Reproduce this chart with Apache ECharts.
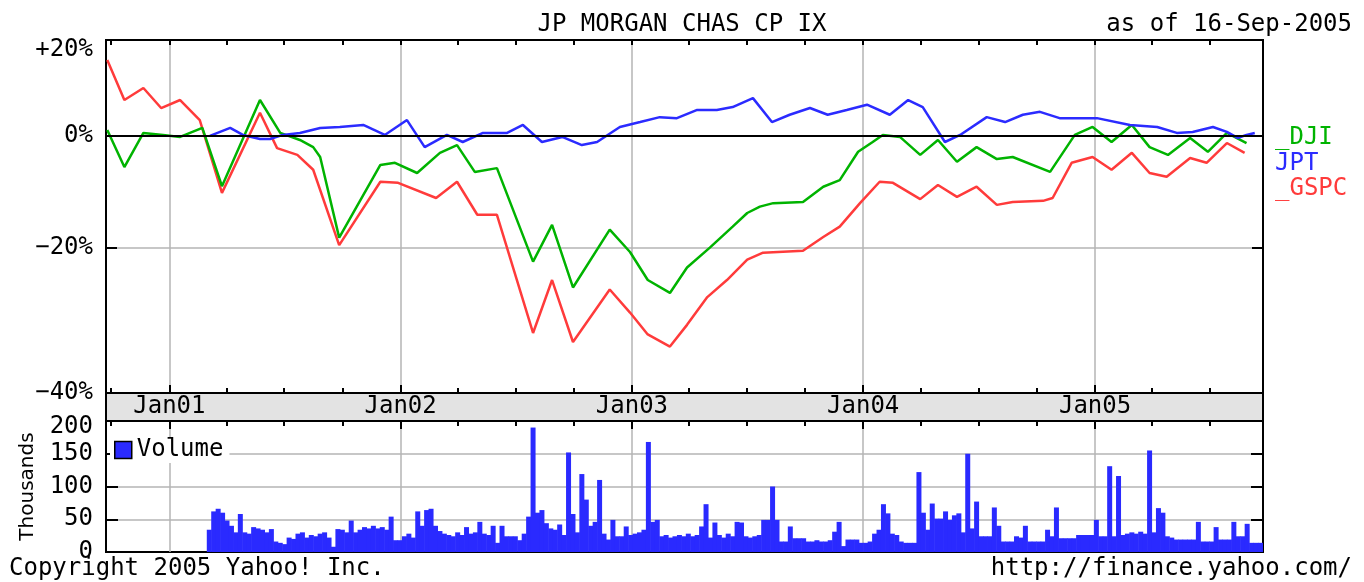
<!DOCTYPE html>
<html>
<head>
<meta charset="utf-8">
<title>JP MORGAN CHAS CP IX</title>
<script src="https://cdn.jsdelivr.net/npm/echarts@6/dist/echarts.min.js"></script>
<style>
  html, body { margin: 0; padding: 0; background: #fff; }
  #chart { width: 1364px; height: 582px; }
</style>
</head>
<body>
<div id="chart"></div>
<script>
// percent change since start of chart
const djiDates = ['2000-09-25','2000-10-22','2000-11-21','2000-12-22','2001-01-18','2001-02-22','2001-03-25','2001-05-24','2001-06-25','2001-07-26','2001-08-16','2001-08-27','2001-09-26','2001-11-30','2001-12-23','2002-01-27','2002-03-04','2002-03-31','2002-04-28','2002-06-02','2002-07-29','2002-08-28','2002-09-30','2002-11-27','2002-12-29','2003-01-26','2003-03-02','2003-03-29','2003-05-04','2003-06-09','2003-07-02','2003-07-22','2003-08-12','2003-09-28','2003-10-30','2003-11-25','2003-12-24','2004-01-16','2004-02-01','2004-02-28','2004-03-31','2004-04-28','2004-05-28','2004-06-28','2004-07-30','2004-08-24','2004-10-22','2004-11-30','2004-12-28','2005-01-27','2005-02-28','2005-03-28','2005-04-26','2005-05-31','2005-06-28','2005-07-28','2005-08-28']
const djiValues = [1.2,-6.0,0.6,0.2,-0.2,1.6,-9.5,7.4,0.6,-0.8,-2.2,-4.1,-18.3,-5.6,-5.2,-7.1,-3.3,-1.8,-6.9,-6.2,-22.1,-16.2,-26.0,-17.0,-20.6,-24.9,-26.8,-23.0,-19.9,-16.5,-14.2,-13.1,-12.5,-12.3,-9.6,-8.4,-3.1,-1.2,0.2,-0.2,-3.7,-0.8,-5.0,-2.2,-4.5,-4.1,-6.9,0.2,1.8,-1.2,2.2,-2.2,-3.7,-0.4,-3.1,0.6,-1.4]

const jptDates = ['2001-03-06','2001-04-07','2001-04-27','2001-05-24','2001-06-09','2001-06-29','2001-07-26','2001-08-27','2001-09-27','2001-11-03','2001-12-07','2002-01-11','2002-02-08','2002-03-15','2002-04-09','2002-05-11','2002-06-18','2002-07-13','2002-08-12','2002-09-13','2002-10-14','2002-11-07','2002-12-13','2003-01-14','2003-02-14','2003-03-13','2003-04-14','2003-05-15','2003-06-09','2003-07-11','2003-08-10','2003-09-07','2003-10-09','2003-11-06','2003-12-06','2004-01-07','2004-02-12','2004-03-12','2004-04-04','2004-05-09','2004-06-02','2004-07-14','2004-08-12','2004-09-09','2004-10-06','2004-11-06','2005-01-04','2005-02-25','2005-04-09','2005-05-10','2005-06-04','2005-07-06','2005-07-28','2005-08-14','2005-08-28','2005-09-10']
const jptValues = [0,1.6,0.2,-0.6,-0.6,0.2,0.6,1.6,1.8,2.2,0.2,3.2,-2.2,0.2,-1.2,0.6,0.6,2.2,-1.2,-0.2,-1.8,-1.2,1.8,2.8,3.8,3.6,5.3,5.3,5.9,7.8,2.8,4.3,5.7,4.3,5.3,6.4,4.3,7.4,5.9,-1.2,0.2,3.8,2.8,4.3,4.9,3.6,3.6,2.2,1.8,0.6,0.8,1.8,0.8,-0.4,0.2,0.6]

const gspcDates = ['2000-09-25','2000-10-22','2000-11-21','2000-12-19','2001-01-18','2001-02-18','2001-03-25','2001-05-24','2001-06-20','2001-07-22','2001-08-16','2001-09-26','2001-11-30','2001-12-28','2002-02-26','2002-03-31','2002-05-02','2002-06-02','2002-07-29','2002-08-28','2002-09-30','2002-11-27','2002-12-29','2003-01-26','2003-03-02','2003-03-29','2003-04-30','2003-05-31','2003-07-02','2003-07-27','2003-09-28','2003-10-30','2003-11-25','2003-12-27','2004-01-27','2004-02-17','2004-03-31','2004-04-28','2004-05-28','2004-06-28','2004-07-30','2004-08-24','2004-10-11','2004-10-26','2004-11-25','2004-12-28','2005-01-27','2005-02-28','2005-03-28','2005-04-24','2005-05-31','2005-06-26','2005-07-28','2005-08-25']
const gspcValues = [16.3,7.4,10.0,5.7,7.4,3.2,-10.7,4.7,-2.4,-3.7,-6.5,-19.5,-8.7,-8.9,-11.6,-8.7,-14.5,-14.5,-32.4,-24.9,-33.6,-26.3,-29.6,-32.6,-34.2,-31.3,-27.4,-24.9,-21.8,-20.7,-20.4,-18.2,-16.5,-12.5,-8.7,-8.9,-11.8,-9.3,-11.4,-9.6,-12.8,-12.3,-12.1,-11.6,-5.2,-4.1,-6.5,-3.3,-7.1,-7.8,-4.3,-5.2,-1.4,-3.3]

// weekly volume (thousands), first week starting 2001-03-05
const volumeStart = '2001-03-05'
const volumeValues = [
  34,62,66,60,48,40,30,58,30,28, 38,36,34,30,35,16,14,12,22,20,
  28,30,22,26,24,28,30,22,8,35, 34,30,48,30,34,38,36,40,36,38,
  34,54,18,18,24,28,22,62,40,64, 66,40,32,28,26,24,30,26,38,28,
  30,46,28,26,40,14,40,24,24,24, 18,28,54,190,60,64,44,36,34,42,
  26,152,58,30,119,80,40,46,110,28, 19,49,24,24,39,26,28,30,34,168,
  46,49,24,26,22,24,26,24,28,24, 26,39,73,22,45,26,22,28,24,46,
  45,24,22,24,26,49,49,100,49,16, 16,39,21,21,21,16,16,18,16,16,
  18,31,46,9,19,19,19,14,14,16, 28,34,73,59,28,26,16,14,14,14,
  122,60,34,74,51,51,62,49,56,59, 30,150,36,77,24,24,24,68,40,16,
  16,16,24,22,40,16,16,16,16,34, 24,68,21,21,21,21,26,26,26,26,
  49,24,24,131,24,116,26,28,30,28, 31,28,155,30,67,60,24,22,19,19,
  19,19,19,46,16,16,16,38,19,19, 19,46,24,24,43,14,14,14
]

// axis ticks
const yearTicks = ['2001-01-01','2002-01-01','2003-01-01','2004-01-01','2005-01-01']
const quarterTicks = ['2000-10-01','2001-01-01','2001-04-01','2001-07-01','2001-10-01','2002-01-01','2002-04-01','2002-07-01','2002-10-01','2003-01-01','2003-04-01','2003-07-01','2003-10-01','2004-01-01','2004-04-01','2004-07-01','2004-10-01','2005-01-01','2005-04-01','2005-07-01']
const pctTicks = [60, 80, 100, 120]
const xMin = '2000-09-23'
const xMax = '2005-09-23'

const FONT = 'DejaVu Sans Mono'
const DAY = 86400000
const ts = s => new Date(s + 'T00:00:00').getTime()

const pairs = (dates, values) => dates.map((d, i) => [ts(d), 100 + values[i]])
const volumeData = volumeValues.map((v, i) => [ts(volumeStart) + i * 7 * DAY, v])

const textBase = { fontFamily: FONT, fontSize: 24, color: '#000', fontWeight: 'normal' }
const gridGray = { color: '#b4b4b4', width: 1.5 }
const tickStyle = { color: '#000', width: 2 }
// top label of each panel sits a little below its tick, as in the original
const lowLabel = { low: { fontFamily: FONT, fontSize: 24, color: '#000', padding: [12, 0, 0, 0] } }

// date axes are value axes in milliseconds so that custom tick lists work
const dateAxis = (gridIndex, position, extra) => Object.assign({
  type: 'value',
  gridIndex,
  position,
  min: ts(xMin),
  max: ts(xMax),
  axisLine: { show: false, onZero: false },
  axisLabel: { show: false },
  splitLine: { show: false }
}, extra)

const chart = echarts.init(document.getElementById('chart'))

const option = {
  animation: false,
  backgroundColor: '#fff',
  textStyle: { fontFamily: FONT },
  title: [
    { text: 'JP MORGAN CHAS CP IX', left: 'center', top: 13, padding: 0, textStyle: textBase },
    { text: 'as of 16-Sep-2005', right: 12, top: 13, padding: 0, textStyle: textBase },
    { text: 'Copyright 2005 Yahoo! Inc.', left: 9, top: 557, padding: 0, textStyle: textBase },
    { text: 'http://finance.yahoo.com/', right: 12, top: 557, padding: 0, textStyle: textBase }
  ],
  legend: [
    {
      orient: 'vertical',
      left: 1262,
      top: 126,
      padding: 0,
      itemWidth: 0,
      itemHeight: 20,
      itemGap: 1.5,
      lineStyle: { opacity: 0 },
      itemStyle: { opacity: 0 },
      selectedMode: false,
      textStyle: { fontFamily: FONT, fontSize: 24 },
      data: [
        { name: '_DJI', textStyle: { color: '#00b300' } },
        { name: 'JPT', textStyle: { color: '#2b2bff' } },
        { name: '_GSPC', textStyle: { color: '#ff3b3b' } }
      ]
    },
    {
      left: 110,
      top: 437,
      padding: [1, 6, 1, 4],
      backgroundColor: '#fff',
      itemWidth: 17,
      itemHeight: 17,
      itemGap: 5,
      icon: 'rect',
      selectedMode: false,
      itemStyle: { borderColor: '#000', borderWidth: 1.5 },
      textStyle: { fontFamily: FONT, fontSize: 24, color: '#000' },
      data: ['Volume']
    }
  ],
  grid: [
    { left: 106, right: 101, top: 40, height: 353, show: true, borderColor: '#000', borderWidth: 2, backgroundColor: '#fff' },
    { left: 106, right: 101, top: 393, height: 28, show: true, borderColor: '#000', borderWidth: 2, backgroundColor: '#e3e3e3' },
    { left: 106, right: 101, top: 421, height: 131, show: true, borderColor: '#000', borderWidth: 2, backgroundColor: '#fff' }
  ],
  xAxis: [
    // price panel, bottom: year ticks + vertical grid
    dateAxis(0, 'bottom', {
      axisTick: { show: true, inside: true, length: 8, customValues: yearTicks.map(ts), lineStyle: tickStyle },
      splitLine: { show: true, lineStyle: gridGray }
    }),
    // price panel, top: quarter ticks
    dateAxis(0, 'top', {
      axisTick: { show: true, inside: true, length: 5, customValues: quarterTicks.map(ts), lineStyle: tickStyle }
    }),
    // date band, top: quarter ticks pointing up, year labels inside
    dateAxis(1, 'top', {
      axisTick: { show: true, inside: false, length: 5, customValues: quarterTicks.map(ts), lineStyle: tickStyle },
      axisLabel: {
        show: true,
        inside: true,
        margin: 2,
        customValues: yearTicks.map(ts),
        fontFamily: FONT,
        fontSize: 24,
        color: '#000',
        formatter: v => 'Jan' + String(new Date(v).getFullYear()).slice(2)
      }
    }),
    // date band, bottom: quarter ticks pointing down
    dateAxis(1, 'bottom', {
      axisTick: { show: true, inside: false, length: 5, customValues: quarterTicks.map(ts), lineStyle: tickStyle }
    }),
    // volume panel: year ticks + vertical grid
    dateAxis(2, 'top', {
      axisTick: { show: true, inside: true, length: 8, customValues: yearTicks.map(ts), lineStyle: tickStyle },
      splitLine: { show: true, lineStyle: gridGray }
    })
  ],
  yAxis: [
    {
      type: 'log',
      logBase: 10,
      gridIndex: 0,
      position: 'left',
      min: 60,
      max: 121,
      axisLine: { show: false, onZero: false },
      axisTick: { show: true, inside: true, length: 11, customValues: [80], lineStyle: tickStyle },
      axisLabel: {
        customValues: pctTicks,
        margin: 13,
        fontFamily: FONT,
        fontSize: 24,
        color: '#000',
        formatter: v => {
          const p = Math.round(v - 100)
          if (p === 0) return '0%'
          if (p > 0) return '{low|+' + p + '%}'
          return '\u2212' + Math.abs(p) + '%'
        },
        rich: lowLabel
      },
      splitLine: { show: true, lineStyle: gridGray }
    },
    {
      type: 'log',
      logBase: 10,
      gridIndex: 0,
      position: 'right',
      min: 60,
      max: 121,
      axisLine: { show: false, onZero: false },
      axisTick: { show: true, inside: true, length: 11, customValues: [80], lineStyle: tickStyle },
      axisLabel: { show: false },
      splitLine: { show: false }
    },
    { type: 'value', gridIndex: 1, show: false, min: 0, max: 1, axisLine: { onZero: false } },
    {
      type: 'value',
      gridIndex: 2,
      position: 'left',
      min: 0,
      max: 200,
      interval: 50,
      name: 'Thousands',
      nameLocation: 'middle',
      nameRotate: 90,
      nameGap: 68,
      nameTextStyle: { fontFamily: 'DejaVu Sans', fontSize: 20, color: '#000' },
      axisLine: { show: false, onZero: false },
      axisTick: { show: true, inside: true, length: 12, lineStyle: tickStyle },
      axisLabel: {
        margin: 13,
        showMinLabel: true,
        showMaxLabel: true,
        hideOverlap: false,
        fontFamily: FONT,
        fontSize: 24,
        color: '#000',
        formatter: v => (v === 200 ? '{low|200}' : String(v)),
        rich: lowLabel
      },
      splitLine: { show: true, showMinLine: false, showMaxLine: false, lineStyle: gridGray }
    },
    {
      type: 'value',
      gridIndex: 2,
      position: 'right',
      min: 0,
      max: 200,
      interval: 50,
      axisLine: { show: false, onZero: false },
      axisTick: { show: true, inside: true, length: 12, lineStyle: tickStyle },
      axisLabel: { show: false },
      splitLine: { show: false }
    }
  ],
  series: [
    {
      name: '_GSPC',
      type: 'line',
      xAxisIndex: 0,
      yAxisIndex: 0,
      data: pairs(gspcDates, gspcValues),
      symbol: 'none',
      lineStyle: { color: '#ff3b3b', width: 2.5 },
      itemStyle: { color: '#ff3b3b' },
      markLine: {
        silent: true,
        symbol: 'none',
        label: { show: false },
        lineStyle: { color: '#000', width: 2, type: 'solid' },
        data: [{ yAxis: 100 }]
      }
    },
    {
      name: '_DJI',
      type: 'line',
      xAxisIndex: 0,
      yAxisIndex: 0,
      data: pairs(djiDates, djiValues),
      symbol: 'none',
      lineStyle: { color: '#00b300', width: 2.5 },
      itemStyle: { color: '#00b300' }
    },
    {
      name: 'JPT',
      type: 'line',
      xAxisIndex: 0,
      yAxisIndex: 0,
      data: pairs(jptDates, jptValues),
      symbol: 'none',
      lineStyle: { color: '#2b2bff', width: 2.5 },
      itemStyle: { color: '#2b2bff' }
    },
    {
      name: 'Volume',
      type: 'bar',
      xAxisIndex: 4,
      yAxisIndex: 3,
      data: volumeData,
      barWidth: 5,
      itemStyle: { color: '#2a2aff' }
    }
  ]
}

chart.setOption(option)
</script>
</body>
</html>
